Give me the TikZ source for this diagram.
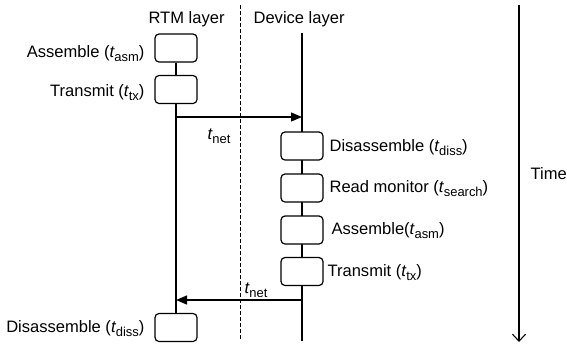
\documentclass[tikz,border=0pt]{standalone}
\usepackage{fontspec}
\setmainfont{Liberation Sans}
\usetikzlibrary{arrows.meta}
% italic t with an upright lowered subscript
\newcommand{\tsub}[1]{\textit{t}\kern-0.02em\raisebox{-0.27em}{\fontsize{13}{13}\selectfont #1}}
\begin{document}
\begin{tikzpicture}[x=1bp,y=-1bp,
  line width=1.2bp,
  stepbox/.style={draw,fill=white,rounded corners=4bp,minimum width=42bp,minimum height=28bp,inner sep=0},
  lbl/.style={inner sep=0,font=\fontsize{16.6}{19}\selectfont},
  msg/.style={-{Triangle[length=11bp,width=9bp]}},
  lifeline/.style={line width=1.2bp},
  divider/.style={dash pattern=on 3.5bp off 2.5bp,line width=1bp},
  timeaxis/.style={-{Straight Barb[length=7bp,width=13bp,line width=1.1bp]}}
]
\useasboundingbox (0,0) rectangle (567,345);

% lane headings
\node[lbl,anchor=base west] (hrtm) at (148,23) {RTM layer};
\node[lbl,anchor=base west] (hdev) at (253,23) {Device layer};

% divider between the two layers
\coordinate (dtop) at (240,5);
\coordinate (dbot) at (240,341);
\draw[divider] (dtop) -- (dbot);

% device lifeline
\coordinate (devtop) at (302,33);
\coordinate (devbot) at (302,341);
\draw[lifeline] (devtop) -- (devbot);

% RTM steps
\node[stepbox] (ra) at (176,48) {};
\node[stepbox] (rt) at (176,89.5) {};
\node[stepbox] (rd) at (176,327.5) {};
\draw[lifeline] (ra.south) -- (rt.north);
\draw[lifeline] (rt.south) -- (rd.north);

% device steps
\node[stepbox] (dd) at (302,146) {};
\node[stepbox] (dr) at (302,188) {};
\node[stepbox] (da) at (302,230) {};
\node[stepbox] (dt) at (302,271.5) {};

% messages across the network
\coordinate (m1s) at (176,117);
\coordinate (m1e) at (302,117);
\draw[msg] (m1s) -- (m1e);
\coordinate (m2s) at (302,300);
\coordinate (m2e) at (176,300);
\draw[msg] (m2s) -- (m2e);
\node[lbl,anchor=base west] (n1) at (207,139) {\tsub{net}};
\node[lbl,anchor=base west] (n2) at (244,293) {\tsub{net}};

% step labels
\node[lbl,anchor=base east] (la) at (145,57) {Assemble (\tsub{asm})};
\node[lbl,anchor=base east] (lt) at (145,96) {Transmit (\tsub{tx})};
\node[lbl,anchor=base east] (ld) at (145,332) {Disassemble (\tsub{diss})};
\node[lbl,anchor=base west] (ldd) at (329,151) {Disassemble (\tsub{diss})};
\node[lbl,anchor=base west] (ldr) at (329,192) {Read monitor (\tsub{search})};
\node[lbl,anchor=base west] (lda) at (331,234) {Assemble(\tsub{asm})};
\node[lbl,anchor=base west] (ldt) at (327,276) {Transmit (\tsub{tx})};

% time axis
\coordinate (ttop) at (519,5);
\coordinate (tbot) at (519,342);
\draw[timeaxis] (ttop) -- (tbot);
\node[lbl,anchor=base west] (time) at (530,179) {Time};
\end{tikzpicture}
\end{document}
